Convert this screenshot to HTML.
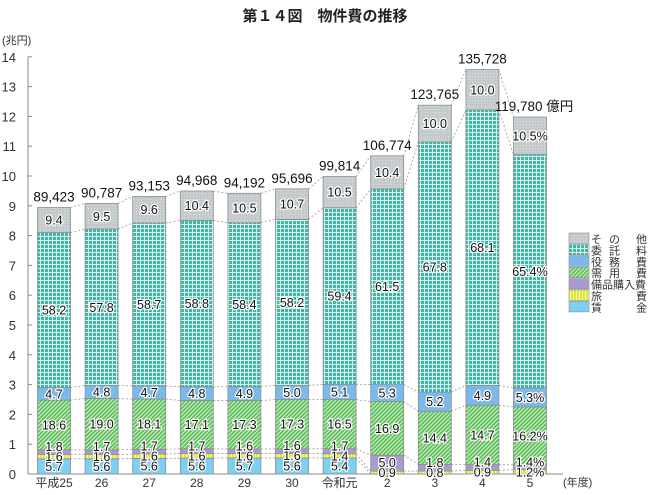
<!DOCTYPE html>
<html><head><meta charset="utf-8"><style>
body{margin:0;background:#fff;}
svg text{font-family:"Liberation Sans","Noto Sans CJK JP",sans-serif;}
</style></head><body>
<svg id="chart" width="650" height="490" viewBox="0 0 650 490" xmlns="http://www.w3.org/2000/svg">
<defs>
<pattern id="pGrid" width="4" height="4" patternUnits="userSpaceOnUse"><rect width="4" height="4" fill="#3fb7a6"/><path d="M0 0.5H4M0.5 0V4" stroke="#d8f3ee" stroke-width="1"/></pattern>
<pattern id="pHatch" width="4" height="4" patternUnits="userSpaceOnUse"><rect width="4" height="4" fill="#5fbf5a"/><path d="M-1 1L1 -1M0 4L4 0M3 5L5 3" stroke="#d9f2d4" stroke-width="1"/></pattern>
<pattern id="pYel" width="3" height="3" patternUnits="userSpaceOnUse"><rect width="3" height="3" fill="#dfe83a"/><path d="M0.5 0V3" stroke="#f6f9b0" stroke-width="1"/></pattern>
<pattern id="pDot" width="3" height="3" patternUnits="userSpaceOnUse"><rect width="3" height="3" fill="#c4c9cb"/><rect x="1" y="1" width="1" height="1" fill="#dde0e1"/></pattern>
</defs>
<text x="325" y="21" text-anchor="middle" font-size="15" font-weight="bold" fill="#222">第１４図　物件費の推移</text>
<text x="2" y="44" font-size="11" fill="#333">(兆円)</text>
<text x="563" y="486" font-size="11" fill="#333">(年度)</text>
<g id="axes"></g>
<g id="bars"></g>
<g id="conn"></g>
<g id="labels"></g>
<g id="legend"></g>
</svg>
<script>
const categories = ["平成25","26","27","28","29","30","令和元","2","3","4","5"];
const totals = [89423,90787,93153,94968,94192,95696,99814,106774,123765,135728,119780];
const chingin = [5.7,5.6,5.6,5.6,5.7,5.6,5.4,0,0,0,0];
const ryohi = [1.6,1.6,1.6,1.6,1.6,1.6,1.4,0.9,0.8,0.9,1.2];
const bihin = [1.8,1.7,1.7,1.7,1.6,1.6,1.7,5.0,1.8,1.4,1.4];
const juyo = [18.6,19.0,18.1,17.1,17.3,17.3,16.5,16.9,14.4,14.7,16.2];
const ekimu = [4.7,4.8,4.7,4.8,4.9,5.0,5.1,5.3,5.2,4.9,5.3];
const itaku = [58.2,57.8,58.7,58.8,58.4,58.2,59.4,61.5,67.8,68.1,65.4];
const sonota = [9.4,9.5,9.6,10.4,10.5,10.7,10.5,10.4,10.0,10.0,10.5];
const yTicks = [0,1,2,3,4,5,6,7,8,9,10,11,12,13,14];

const NS="http://www.w3.org/2000/svg";
const y0=474, unit=29.8, x0=54, step=47.6, bw=33;
const Y=v=>y0-v*unit;
const X=i=>x0+i*step;
function mk(tag,attrs,parent){const e=document.createElementNS(NS,tag);for(const k in attrs)e.setAttribute(k,attrs[k]);parent.appendChild(e);return e;}
const axes=document.getElementById('axes'), bars=document.getElementById('bars'), legend=document.getElementById('legend');
const conn=document.getElementById('conn'), labels=document.getElementById('labels');

const ax=mk('line',{x1:28,y1:Y(14),x2:28,y2:y0,stroke:'#888','stroke-width':1},axes);


const bl=mk('line',{x1:28,y1:y0,x2:563,y2:y0,stroke:'#888','stroke-width':1},axes);


yTicks.forEach(t=>{
  const tk=mk('line',{x1:28,y1:Y(t),x2:32,y2:Y(t),stroke:'#888'},axes);
  
  
  const tl=mk('text',{x:16,y:Y(t)+5,'text-anchor':'end','font-size':13,fill:'#333'},axes);
  
  
  tl.textContent=t;
});

const series=[
 {name:'chingin',vals:chingin,fill:'#7fcff2'},
 {name:'ryohi',vals:ryohi,fill:'url(#pYel)'},
 {name:'bihin',vals:bihin,fill:'#a99bd2'},
 {name:'juyo',vals:juyo,fill:'url(#pHatch)'},
 {name:'ekimu',vals:ekimu,fill:'#7bb9ea'},
 {name:'itaku',vals:itaku,fill:'url(#pGrid)'},
 {name:'sonota',vals:sonota,fill:'url(#pDot)'}
];
const bounds=[];
categories.forEach((c,i)=>{
  const tot=totals[i]/10000;
  let cum=0, prevLab=484;
  const b=[];
  const g=mk('g',{},bars);
  
  
  series.forEach((s,si)=>{
    const p=s.vals[i];
    const h=p/100*tot;
    if(h>0){
      const r=mk('rect',{x:X(i)-bw/2,y:Y(cum+h),width:bw,height:Y(cum)-Y(cum+h),fill:s.fill,stroke:'#8a8f92','stroke-width':0.8},g);
      
      
      let ly=Y(cum+h/2);
      if(si<3){ly=Math.min(ly,prevLab-10);prevLab=ly;}
      const t=mk('text',{x:X(i),y:ly+4.5,'text-anchor':'middle','font-size':12.5,fill:'#111',stroke:'#fff','stroke-width':2.5,'paint-order':'stroke','stroke-linejoin':'round'},labels);
      
      
      t.textContent=p.toFixed(1)+(i===categories.length-1?'%':'');
    }
    cum+=h;
    b.push(cum);
  });
  bounds.push(b);
  const tt=mk('text',{x:X(i)+(i===categories.length-1?4:0),y:Y(tot)-6,'text-anchor':'middle','font-size':13.5,fill:'#111'},labels);
  
  
  tt.textContent=totals[i].toLocaleString('en-US')+(i===categories.length-1?' 億円':'');
  const xl=mk('text',{x:X(i),y:487,'text-anchor':'middle','font-size':12,fill:'#333'},labels);
  
  
  xl.textContent=c;
});
for(let i=0;i<categories.length-1;i++){
  bounds[i].forEach((v,k)=>{
    const l=mk('line',{x1:X(i)+bw/2,y1:Y(v),x2:X(i+1)-bw/2,y2:Y(bounds[i+1][k]),stroke:'#999','stroke-width':0.8,'stroke-dasharray':'2,2'},conn);
    
    
  });
}
const legRows=[['そ','の','他'],['委','託','料'],['役','務','費'],['需','用','費'],['備品購入費','',''],['旅','','費'],['賃','','金']];
const legFills=['url(#pDot)','url(#pGrid)','#7bb9ea','url(#pHatch)','#a99bd2','url(#pYel)','#7fcff2'];
legRows.forEach((r,k)=>{
  const y=233+k*11.4;
  const sw=mk('rect',{x:569,y:y,width:20,height:10.5,fill:legFills[k],stroke:'#8a8f92','stroke-width':0.6},legend);
  
  
  const t=mk('text',{x:591,y:y+10,'font-size':11,fill:'#333'},legend);
  
  
  t.textContent=r[0];
  if(r[1]){const t2=mk('text',{x:609,y:y+10,'font-size':11,fill:'#333'},legend);
  
  
  t2.textContent=r[1];}
  if(r[2]){const t4=mk('text',{x:636,y:y+10,'font-size':11,fill:'#333'},legend);
  
  
  t4.textContent=r[2];}
});
</script>
</body></html>
